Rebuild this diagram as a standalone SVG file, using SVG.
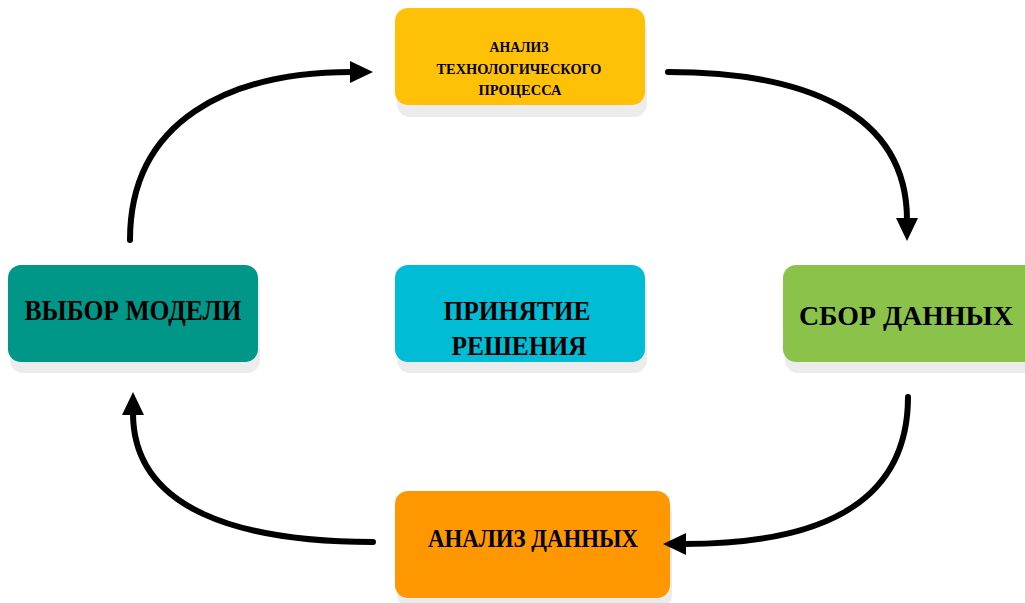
<svg xmlns="http://www.w3.org/2000/svg" width="1025" height="603" viewBox="0 0 1025 603">
<style>
.shadow{fill:#ececec}
.lbl{font-family:"Liberation Serif","Times New Roman",serif;font-weight:bold;fill:#000;text-anchor:middle}
.conn{fill:none;stroke:#000;stroke-width:6;stroke-linecap:round}
</style>
<defs>
<marker id="ah" markerUnits="userSpaceOnUse" markerWidth="24" markerHeight="24" viewBox="0 0 24 24" refX="2" refY="12" orient="auto">
<path d="M0,1 L23,12 L0,23 Z" fill="#000"/>
</marker>
</defs>
<rect width="1025" height="603" fill="#fff"/>
<g id="node-analysis-process">
<rect class="shadow" x="397" y="18" width="250" height="99" rx="13"/>
<rect x="395" y="8" width="250" height="97" rx="13" fill="#FFC107"/>
<text class="lbl" x="519" y="52" font-size="15" textLength="59" lengthAdjust="spacingAndGlyphs">АНАЛИЗ</text>
<text class="lbl" x="519" y="74" font-size="15" textLength="165" lengthAdjust="spacingAndGlyphs">ТЕХНОЛОГИЧЕСКОГО</text>
<text class="lbl" x="520" y="95" font-size="15" textLength="83" lengthAdjust="spacingAndGlyphs">ПРОЦЕССА</text>
</g>
<g id="node-model">
<rect class="shadow" x="10" y="275" width="250" height="98" rx="13"/>
<rect x="8" y="265" width="250" height="97" rx="13" fill="#009688"/>
<text class="lbl" x="133" y="320" font-size="30" textLength="217" lengthAdjust="spacingAndGlyphs">ВЫБОР МОДЕЛИ</text>
</g>
<g id="node-decision">
<rect class="shadow" x="397" y="275" width="250" height="98" rx="13"/>
<rect x="395" y="265" width="250" height="97" rx="13" fill="#00BCD4"/>
<text class="lbl" x="517" y="320" font-size="28" textLength="147" lengthAdjust="spacingAndGlyphs">ПРИНЯТИЕ</text>
<text class="lbl" x="519" y="355" font-size="28" textLength="135" lengthAdjust="spacingAndGlyphs">РЕШЕНИЯ</text>
</g>
<g id="node-collect">
<path class="shadow" d="M798,275 H1025 V373 H798 A13,13 0 0 1 785,360 V288 A13,13 0 0 1 798,275 Z"/>
<path d="M796,265 H1025 V362 H796 A13,13 0 0 1 783,349 V278 A13,13 0 0 1 796,265 Z" fill="#8BC34A"/>
<text class="lbl" x="906" y="325" font-size="27" textLength="214" lengthAdjust="spacingAndGlyphs">СБОР ДАННЫХ</text>
</g>
<g id="node-data-analysis">
<rect class="shadow" x="397" y="501" width="275" height="107" rx="13"/>
<rect x="395" y="491" width="275" height="107" rx="13" fill="#FF9800"/>
<text class="lbl" x="533" y="547" font-size="26" textLength="210" lengthAdjust="spacingAndGlyphs">АНАЛИЗ ДАННЫХ</text>
</g>
<g id="connectors">
<path class="conn" marker-end="url(#ah)" d="M130,240 C130,120 230,72 352,72"/>
<path class="conn" marker-end="url(#ah)" d="M668,72 C800,72 907,110 907,220"/>
<path class="conn" marker-end="url(#ah)" d="M908,397 C908,510 810,544 684,544"/>
<path class="conn" marker-end="url(#ah)" d="M373,542 C240,542 133,510 133,413"/>
</g>
</svg>
